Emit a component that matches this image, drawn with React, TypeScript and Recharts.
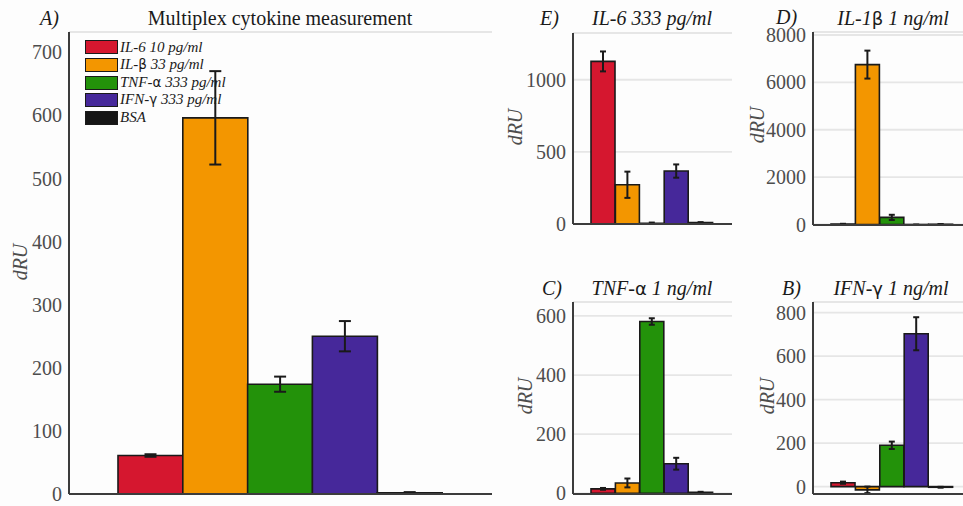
import React from 'react';
import { BarChart, Bar, XAxis, YAxis, CartesianGrid, ErrorBar, Cell } from 'recharts';

const categories = ['IL-6', 'IL-1β', 'TNF-α', 'IFN-γ', 'BSA'];
const barColors = ['#d5172f', '#f39600', '#23920a', '#46289a', '#161616'];
const legendLabels = [
  ['IL-6 10 pg/ml', '', ''],
  ['IL-', 'β', ' 33 pg/ml'],
  ['TNF-', 'α', ' 333 pg/ml'],
  ['IFN-', 'γ', ' 333 pg/ml'],
  ['BSA', '', ''],
];

// Panel A: multiplex
const multiplexValues = [61, 596, 174, 250, 2];
const multiplexErrors = [2, 74, 12, 24, 1];
const multiplexTicks = [0, 100, 200, 300, 400, 500, 600, 700];
// Panel E: IL-6 333 pg/ml
const il6Values = [1127, 272, 5, 367, 10];
const il6Errors = [69, 91, 5, 46, 3];
const il6Ticks = [0, 500, 1000];
// Panel D: IL-1β 1 ng/ml
const il1bValues = [20, 6750, 300, -10, 10];
const il1bErrors = [10, 590, 110, 10, 5];
const il1bTicks = [0, 2000, 4000, 6000, 8000];
// Panel C: TNF-α 1 ng/ml
const tnfValues = [15, 35, 581, 100, 3];
const tnfErrors = [3, 15, 11, 20, 2];
const tnfTicks = [0, 200, 400, 600];
// Panel B: IFN-γ 1 ng/ml
const ifnValues = [18, -15, 190, 703, -3];
const ifnErrors = [5, 15, 17, 76, 2];
const ifnTicks = [0, 200, 400, 600, 800];

const build = (vals: number[], errs: number[]) =>
  categories.map((c, i) => ({ name: c, value: vals[i], err: errs[i] }));

const BG = '#fdfdfd';
const AXIS = '#3c3c3c';
const GRID = '#e6e6e6';
const INK = '#1a1a1a';
const TICKC = '#4d4d4d';
const SERIF = "'Liberation Serif', 'DejaVu Serif', serif";
const GREEK = "'DejaVu Sans', sans-serif";

type PanelProps = {
  left: number; top: number; width: number; height: number;
  axisX: number; plotTop: number; plotBottom: number; plotRight: number;
  domain: [number, number]; ticks: number[]; pad: [number, number];
  data: any[]; cap: number; grid?: boolean; bars?: boolean; axes?: boolean;
};

function Panel(p: PanelProps) {
  const { grid = true, bars = true, axes = true } = p;
  const xh = 1;
  const margin = {
    top: p.plotTop - p.top,
    left: 0,
    right: p.left + p.width - p.plotRight,
    bottom: p.top + p.height - p.plotBottom - xh,
  };
  return (
    <div style={{ position: 'absolute', left: p.left, top: p.top, width: p.width, height: p.height }}>
      <BarChart width={p.width} height={p.height} data={p.data} margin={margin} barCategoryGap={0} barGap={0}>
        {grid && <CartesianGrid vertical={false} stroke={GRID} strokeWidth={1.8} />}
        <XAxis
          dataKey="name"
          type="category"
          height={xh}
          tick={false}
          tickLine={false}
          axisLine={axes ? { stroke: AXIS, strokeWidth: 2 } : false}
          padding={{ left: p.pad[0], right: p.pad[1] }}
        />
        <YAxis
          type="number"
          domain={p.domain}
          allowDataOverflow
          ticks={p.ticks}
          interval={0}
          width={p.axisX - p.left}
          tickLine={false}
          tickSize={5}
          tickMargin={2}
          axisLine={axes ? { stroke: AXIS, strokeWidth: 2 } : false}
          tick={axes ? { fill: TICKC, fontSize: 20, fontFamily: SERIF, style: { fontFamily: SERIF } } : false}
        />
        {bars && (
          <Bar dataKey="value" isAnimationActive={false} stroke={INK} strokeWidth={1.6}>
            {p.data.map((d, i) => (
              <Cell key={d.name} fill={barColors[i]} />
            ))}
            <ErrorBar dataKey="err" direction="y" width={p.cap} stroke={INK} strokeWidth={2} />
          </Bar>
        )}
      </BarChart>
    </div>
  );
}

function Greekify({ text }: { text: string }) {
  const parts = text.split(/([αβγ])/);
  return (
    <>
      {parts.map((s, i) =>
        /[αβγ]/.test(s) ? (
          <tspan key={i} style={{ fontStyle: 'normal', fontFamily: GREEK, fontSize: '0.9em' }}>{s}</tspan>
        ) : (
          <tspan key={i}>{s}</tspan>
        )
      )}
    </>
  );
}

const titleStyle: React.CSSProperties = { fill: INK, fontSize: 20, fontFamily: SERIF };
const italicTitle: React.CSSProperties = { ...titleStyle, fontStyle: 'italic' };

function Overlay() {
  const ylab = (x: number, y: number) => (
    <text
      x={x}
      y={y}
      transform={`rotate(-90 ${x} ${y})`}
      textAnchor="middle"
      dominantBaseline="central"
      style={{ fontStyle: 'italic', fill: TICKC, fontSize: 20, fontFamily: SERIF }}
    >
      dRU
    </text>
  );
  return (
    <svg width={963} height={506} style={{ position: 'absolute', left: 0, top: 0, pointerEvents: 'none' }}>
      <text x={40} y={25} style={italicTitle}>A)</text>
      <text x={280} y={25} style={titleStyle} textAnchor="middle">Multiplex cytokine measurement</text>
      <text x={540} y={25} style={italicTitle}>E)</text>
      <text x={652} y={25} style={italicTitle} textAnchor="middle"><Greekify text="IL-6 333 pg/ml" /></text>
      <text x={776} y={24} style={italicTitle}>D)</text>
      <text x={893} y={25} style={italicTitle} textAnchor="middle"><Greekify text="IL-1β 1 ng/ml" /></text>
      <text x={542} y={295} style={italicTitle}>C)</text>
      <text x={652} y={295} style={italicTitle} textAnchor="middle"><Greekify text="TNF-α 1 ng/ml" /></text>
      <text x={782} y={295} style={italicTitle}>B)</text>
      <text x={891} y={295} style={italicTitle} textAnchor="middle"><Greekify text="IFN-γ 1 ng/ml" /></text>
      {ylab(20, 262)}
      {ylab(515, 127)}
      {ylab(757, 125)}
      {ylab(525, 396)}
      {ylab(767, 396)}
    </svg>
  );
}

function LegendBox() {
  return (
    <div style={{ position: 'absolute', left: 84, top: 38.7 }}>
      {legendLabels.map((parts, i) => (
        <div
          key={i}
          style={{
            display: 'flex',
            alignItems: 'center',
            width: 'fit-content',
            height: 17.6,
            background: BG,
            paddingRight: 2,
          }}
        >
          <div
            style={{
              width: 33,
              height: 14,
              boxSizing: 'border-box',
              border: `1.6px solid ${INK}`,
              background: barColors[i],
              marginLeft: 1,
            }}
          />
          <span
            style={{
              marginLeft: 2,
              fontFamily: SERIF,
              fontStyle: 'italic',
              fontSize: 15,
              color: INK,
              lineHeight: '17.6px',
              whiteSpace: 'nowrap',
            }}
          >
            {parts[0]}
            {parts[1] && (
              <span style={{ fontStyle: 'normal', fontFamily: GREEK, fontSize: 13.5 }}>{parts[1]}</span>
            )}
            {parts[2]}
          </span>
        </div>
      ))}
    </div>
  );
}

export default function App() {
  const mainCfg = {
    left: 0, top: 0, width: 500, height: 506,
    axisX: 69, plotTop: 32, plotBottom: 494, plotRight: 492,
    domain: [0, 732] as [number, number], ticks: multiplexTicks, pad: [49, 50] as [number, number],
    data: build(multiplexValues, multiplexErrors), cap: 6,
  };
  return (
    <div
      style={{
        position: 'fixed',
        left: 0,
        top: 0,
        width: 963,
        height: 506,
        overflow: 'hidden',
        background: BG,
        fontFamily: SERIF,
      }}
    >
      <Panel {...mainCfg} grid bars={false} axes={false} />
      <LegendBox />
      <Panel {...mainCfg} grid={false} bars axes />
      <Panel
        left={500} top={0} width={240} height={250}
        axisX={573} plotTop={33} plotBottom={224} plotRight={732}
        domain={[0, 1324]} ticks={il6Ticks} pad={[18, 19]}
        data={build(il6Values, il6Errors)} cap={3}
      />
      <Panel
        left={740} top={0} width={240} height={250}
        axisX={813} plotTop={32} plotBottom={225} plotRight={971}
        domain={[-21, 8126]} ticks={il1bTicks} pad={[18, 18]}
        data={build(il1bValues, il1bErrors)} cap={3}
      />
      <Panel
        left={500} top={250} width={240} height={256}
        axisX={573} plotTop={302} plotBottom={494} plotRight={732}
        domain={[-2.4, 647]} ticks={tnfTicks} pad={[18, 19]}
        data={build(tnfValues, tnfErrors)} cap={3}
      />
      <Panel
        left={740} top={250} width={240} height={256}
        axisX={813} plotTop={302} plotBottom={494} plotRight={971}
        domain={[-34, 849]} ticks={ifnTicks} pad={[18, 18]}
        data={build(ifnValues, ifnErrors)} cap={3}
      />
      <Overlay />
    </div>
  );
}
